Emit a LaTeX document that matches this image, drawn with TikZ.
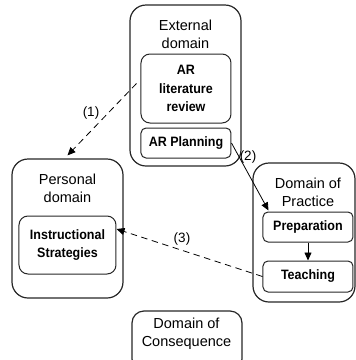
\documentclass[tikz,border=0pt]{standalone}
\usepackage{fontspec}
\setmainfont{Liberation Sans}
\newfontfamily\narrowsans[FakeStretch=0.92]{Liberation Sans}
\usetikzlibrary{arrows.meta,calc}
\begin{document}
\begin{tikzpicture}[x=1pt,y=-1pt,
  outerbox/.style={draw=black!85,line width=1.2pt,rounded corners=16pt,inner sep=0pt},
  innerbox/.style={draw=black!85,line width=1pt,rounded corners=5pt,inner sep=0pt,
    font=\narrowsans\bfseries\fontsize{13.6}{18.5}\selectfont,align=center},
  title/.style={font=\fontsize{14.5}{18}\selectfont,align=center,inner sep=0pt},
  lab/.style={font=\fontsize{13.5}{16}\selectfont,inner sep=0pt},
  tip/.style={-{Triangle[length=8pt,width=7pt]}},
  dashline/.style={dash pattern=on 6.5pt off 4.5pt,line width=0.8pt},
  solidline/.style={line width=0.8pt}]
\clip (0,0) rectangle (356,360);
% outer boxes
\node[outerbox,minimum width=111pt,minimum height=161pt] (ext) at (185.5,85.5) {};
\node[outerbox,minimum width=111pt,minimum height=139pt] (pers) at (67.5,228.5) {};
\node[outerbox,minimum width=102pt,minimum height=139pt] (prac) at (304,232.5) {};
\node[outerbox,rounded corners=12pt,minimum width=110pt,minimum height=60pt] (cons) at (187,341) {};
% titles
\node[title] (extT) at (185.5,34) {External\\domain};
\node[title] (persT) at (67.5,188) {Personal\\domain};
\node[title] (pracT) at (308,192) {Domain of\\Practice};
\node[title] (consT) at (186.5,334) {Domain of\\Consequence};
% inner boxes
\node[innerbox,rounded corners=9pt,minimum width=90pt,minimum height=69pt] (arlit) at (186,88.5) {AR\\literature\\review};
\node[innerbox,minimum width=90pt,minimum height=30pt] (arplan) at (186,143) {AR Planning};
\node[innerbox,rounded corners=9pt,minimum width=97pt,minimum height=58pt] (instr) at (67.5,245) {Instructional\\Strategies};
\node[innerbox,minimum width=90pt,minimum height=30pt] (prep) at (308,227) {Preparation};
\node[innerbox,minimum width=90pt,minimum height=31pt] (teach) at (308,276.5) {Teaching};
% connectors
\coordinate (s1) at ($(arlit.west)+(-4,-5)$);
\draw[dashline,tip] (s1) -- ($(pers.north)+(0,-3)$);
\draw[solidline,tip] (arplan.east) -- ($(prep.north west)+(6,-1)$);
\draw[solidline,tip] (prep.south) -- (teach.north);
\draw[dashline,tip] (teach.west) -- ($(instr.east)+(0,-16)$);
% labels
\node[lab] (l1) at (91,113) {(1)};
\node[lab] (l2) at (248,157) {(2)};
\node[lab] (l3) at (182,239) {(3)};
\end{tikzpicture}
\end{document}
